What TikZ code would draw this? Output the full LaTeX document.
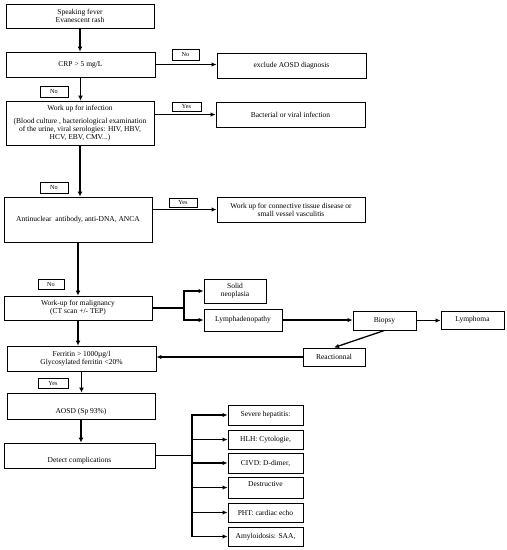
\documentclass[tikz,border=0pt]{standalone}
\usepackage{fontspec}
\setmainfont{Liberation Serif}
\usetikzlibrary{arrows.meta}
\begin{document}
\begin{tikzpicture}[x=1pt,y=-1pt,
  font=\fontsize{7.5}{7.8}\selectfont,
  box/.style={draw,line width=0.9pt,align=center,inner sep=1pt},
  lbl/.style={draw,line width=0.8pt,inner sep=0pt,font=\fontsize{6.2}{6.2}\selectfont},
  arr/.style={line width=1.7pt,-{Latex[length=5pt,width=5pt]}},
  harr/.style={line width=1.3pt,-{Latex[length=5pt,width=4.5pt]}},
  ln/.style={line width=1.3pt}]
\useasboundingbox (0,0) rectangle (507,550);
% main column
\node[box,minimum width=148,minimum height=24] (n1) at (80,16) {Speaking fever\\Evanescent rash};
\node[box,minimum width=149,minimum height=25] (n2) at (80.5,64.5) {CRP > 5 mg/L};
\node[box,minimum width=148,minimum height=44] (n3) at (80,123) {Work up for infection\\[6pt](Blood culture , bacteriological examination\\of the urine, viral serologies: HIV, HBV,\\HCV, EBV, CMV...)};
\node[box,minimum width=148,minimum height=45] (n4) at (78,219.5) {Antinuclear\ \ antibody, anti-DNA, ANCA};
\node[box,minimum width=148,minimum height=24] (n5) at (78,308) {Work-up for malignancy\\(CT scan +/- TEP)};
\node[box,minimum width=149,minimum height=25] (ferr) at (81.5,358.5) {Ferritin > 1000µg/l\\Glycosylated ferritin <20\%};
\node[box,minimum width=148,minimum height=26,text height=16pt] (aosd) at (81,406) {AOSD (Sp 93\%)};
\node[box,minimum width=151,minimum height=25,text height=15pt] (det) at (79.5,455.5) {Detect complications};
% right side
\node[box,minimum width=149,minimum height=25] (excl) at (291.5,65.5) {exclude AOSD diagnosis};
\node[box,minimum width=149,minimum height=25] (bact) at (290.5,114.5) {Bacterial or viral infection};
\node[box,minimum width=148,minimum height=25] (conn) at (291,209.5) {Work up for connective tissue disease or\\small vessel vasculitis};
\node[box,minimum width=62,minimum height=24] (solid) at (235,291) {Solid\\neoplasia};
\node[box,minimum width=78,minimum height=22] (lymph) at (243,320) {Lymphadenopathy};
\node[box,minimum width=63,minimum height=19] (biop) at (384.5,320.5) {Biopsy};
\node[box,minimum width=63,minimum height=18] (lyma) at (472.5,320) {Lymphoma};
\node[box,minimum width=62,minimum height=18] (react) at (334,357) {Reactionnal};
% complications
\node[box,minimum width=75,minimum height=20] (c1) at (265.5,415) {Severe hepatitis:};
\node[box,minimum width=75,minimum height=19] (c2) at (265.5,439.5) {HLH: Cytologie,};
\node[box,minimum width=75,minimum height=20] (c3) at (265.5,463) {CIVD: D-dimer,};
\node[box,minimum width=75,minimum height=21,text depth=6.5pt] (c4) at (265.5,487.5) {Destructive};
\node[box,minimum width=75,minimum height=19] (c5) at (265.5,512.5) {PHT: cardiac echo};
\node[box,minimum width=75,minimum height=19] (c6) at (265.5,536.5) {Amyloidosis: SAA,};
% labels
\node[lbl,minimum width=27,minimum height=11] (l1) at (185.5,54.5) {No};
\node[lbl,minimum width=28,minimum height=11] (l2) at (54,91.5) {No};
\node[lbl,minimum width=29,minimum height=9] (l3) at (186.5,106.5) {Yes};
\node[lbl,minimum width=28,minimum height=11] (l4) at (54,187.5) {No};
\node[lbl,minimum width=28,minimum height=9] (l5) at (183,202.5) {Yes};
\node[lbl,minimum width=26,minimum height=10] (l6) at (51,284) {No};
\node[lbl,minimum width=30,minimum height=10] (l7) at (53,383) {Yes};
% coordinates
\coordinate (s1) at (184,308);
\coordinate (s2) at (192,455.5);
% vertical arrows
\draw[arr] (n1.south) -- (n1.south |- n2.north);
\draw[arr] (n2.south) -- (n2.south |- n3.north);
\draw[arr] (n3.south) -- (n3.south |- n4.north);
\draw[arr] (n4.south) -- (n4.south |- n5.north);
\draw[arr] (n5.south) -- (n5.south |- ferr.north);
\draw[arr] (ferr.south) -- (ferr.south |- aosd.north);
\draw[arr] (aosd.south) -- (aosd.south |- det.north);
% horizontal arrows
\draw[harr] (n2.east) -- (n2.east -| excl.west);
\draw[harr] (n3.east |- bact.west) -- (bact.west);
\draw[harr] (n4.east |- conn.west) -- (conn.west);
\draw[ln] (n5.east) -- (s1);
\draw[harr] (s1) |- (solid.west);
\draw[harr] (s1) |- (lymph.west);
\draw[harr] (lymph.east) -- (lymph.east -| biop.west);
\draw[harr] (biop.east) -- (biop.east -| lyma.west);
\draw[harr] (biop.south) -- (react.north);
\draw[harr] (react.west) -- (react.west -| ferr.east);
\draw[ln] (det.east) -- (s2);
\foreach \c in {c1,c2,c3,c4,c5,c6} \draw[harr] (s2) |- (\c.west);
\end{tikzpicture}
\end{document}
